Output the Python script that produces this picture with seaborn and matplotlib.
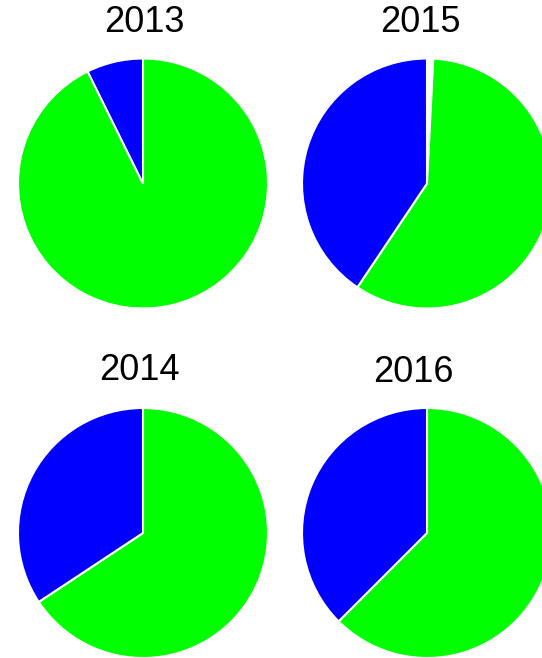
import matplotlib
matplotlib.use("Agg")
import matplotlib.pyplot as plt
import seaborn as sns

sns.set_theme(style="white")
plt.rcParams['font.family'] = ['Liberation Sans', 'DejaVu Sans']

# data: share of each group per year (clockwise from 12 o'clock)
years = ["2013", "2015", "2014", "2016"]
other = [0.0, 0.8, 0.0, 0.0]
green = [92.7, 58.6, 65.7, 62.5]
blue = [7.3, 40.6, 34.3, 37.5]
colors = ["#FFFFFF", "#00FF00", "#0000FF"]

W, H = 542, 658
fig = plt.figure(figsize=(W / 100, H / 100), dpi=100)

# pie centres in pixels (x, y from top), radius in pixels
centres = [(143, 183.5), (427, 183.5), (143, 533), (427, 533)]
title_pos = [(144, 22), (420, 22), (139, 370), (413, 372)]
r = 125

for i, yr in enumerate(years):
    cx, cy = centres[i]
    ax = fig.add_axes([(cx - r) / W, (H - cy - r) / H, 2 * r / W, 2 * r / H])
    ax.pie([other[i], green[i], blue[i]], colors=colors, startangle=90,
           counterclock=False, radius=1,
           wedgeprops=dict(edgecolor="white", linewidth=1.5))
    ax.set_xlim(-1, 1)
    ax.set_ylim(-1, 1)
    ax.set_aspect("equal")
    ax.axis("off")
    tx, ty = title_pos[i]
    fig.text(tx / W, 1 - ty / H, yr, ha="center", va="center", fontsize=26, color="black")

plt.savefig("out.png", dpi=100)
plt.close()
